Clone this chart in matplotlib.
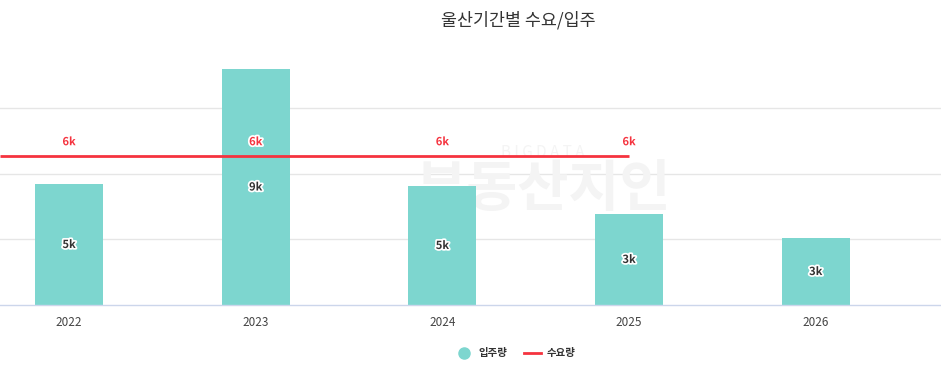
import numpy as np
import matplotlib.pyplot as plt
from matplotlib.lines import Line2D
import matplotlib.patheffects as pe

plt.rcParams['font.family'] = ['Noto Sans CJK KR', 'DejaVu Sans']

# 데이터
years = ['2022', '2023', '2024', '2025', '2026']
supply = [4610, 8990, 4535, 3470, 2550]          # 입주량
demand = [5680, 5680, 5680, 5680]                # 수요량 (2022~2025)
supply_labels = ['5k', '9k', '5k', '3k', '3k']
demand_labels = ['6k', '6k', '6k', '6k']

bar_color = '#7dd6cf'
line_color = '#f5333f'

fig = plt.figure(figsize=(9.41, 3.72), dpi=100)
ax = fig.add_axes([0, 0, 1, 1])
x = np.arange(len(years))

ax.set_xlim(-0.37, 4.671)
ax.set_ylim(-2553, 11620)

# 그리드
for g in [2500, 5000, 7500]:
    ax.axhline(g, color='#e6e6e6', lw=1, zorder=0)
ax.plot([-0.37, 4.671], [0, 0], color='#ccd6eb', lw=1, zorder=3)

# 워터마크
ax.text(2.54, 5800, 'B I G D A T A', ha='center', va='center', fontsize=11,
        color='#f4f4f4', zorder=0)
ax.text(2.54, 4400, '부동산지인', ha='center', va='center', fontsize=40,
        fontweight='bold', color='#f4f4f4', zorder=0)

ax.bar(x, supply, width=0.364, color=bar_color, zorder=2)

# 수요량 라인 (왼쪽 끝까지 이어짐)
dx = np.arange(len(demand))
ax.plot(np.r_[ax.get_xlim()[0], dx], np.r_[demand[0], demand], color=line_color,
        lw=2, zorder=4, solid_capstyle='butt')

halo = [pe.withStroke(linewidth=2.5, foreground='white')]
for i, v in enumerate(supply):
    ax.text(i, v / 2, supply_labels[i], ha='center', va='center', fontsize=8,
            fontweight='bold', color='#333333', path_effects=halo, zorder=5)
for i, v in enumerate(demand):
    ax.text(i, v + 540, demand_labels[i], ha='center', va='center', fontsize=8,
            fontweight='bold', color=line_color, path_effects=halo, zorder=5)

# x축 라벨
for i, yr in enumerate(years):
    ax.text(i, -420, yr, ha='center', va='top', fontsize=8.5, color='#444444')

ax.axis('off')

fig.text(0.551, 0.945, '울산기간별 수요/입주', ha='center', va='center',
         fontsize=12.5, fontweight='medium', color='#333333')

handles = [
    Line2D([], [], marker='o', ls='none', color=bar_color, markersize=8),
    Line2D([], [], color=line_color, lw=2),
]
leg = fig.legend(handles, ['입주량', '수요량'], loc='center', bbox_to_anchor=(0.548, 0.05),
                 ncol=2, frameon=False, handlelength=1.6, columnspacing=1.6,
                 handletextpad=0.6, prop={'size': 7.5, 'weight': 'bold'})
for t in leg.get_texts():
    t.set_color('#333333')

fig.savefig('out.png', dpi=100)
